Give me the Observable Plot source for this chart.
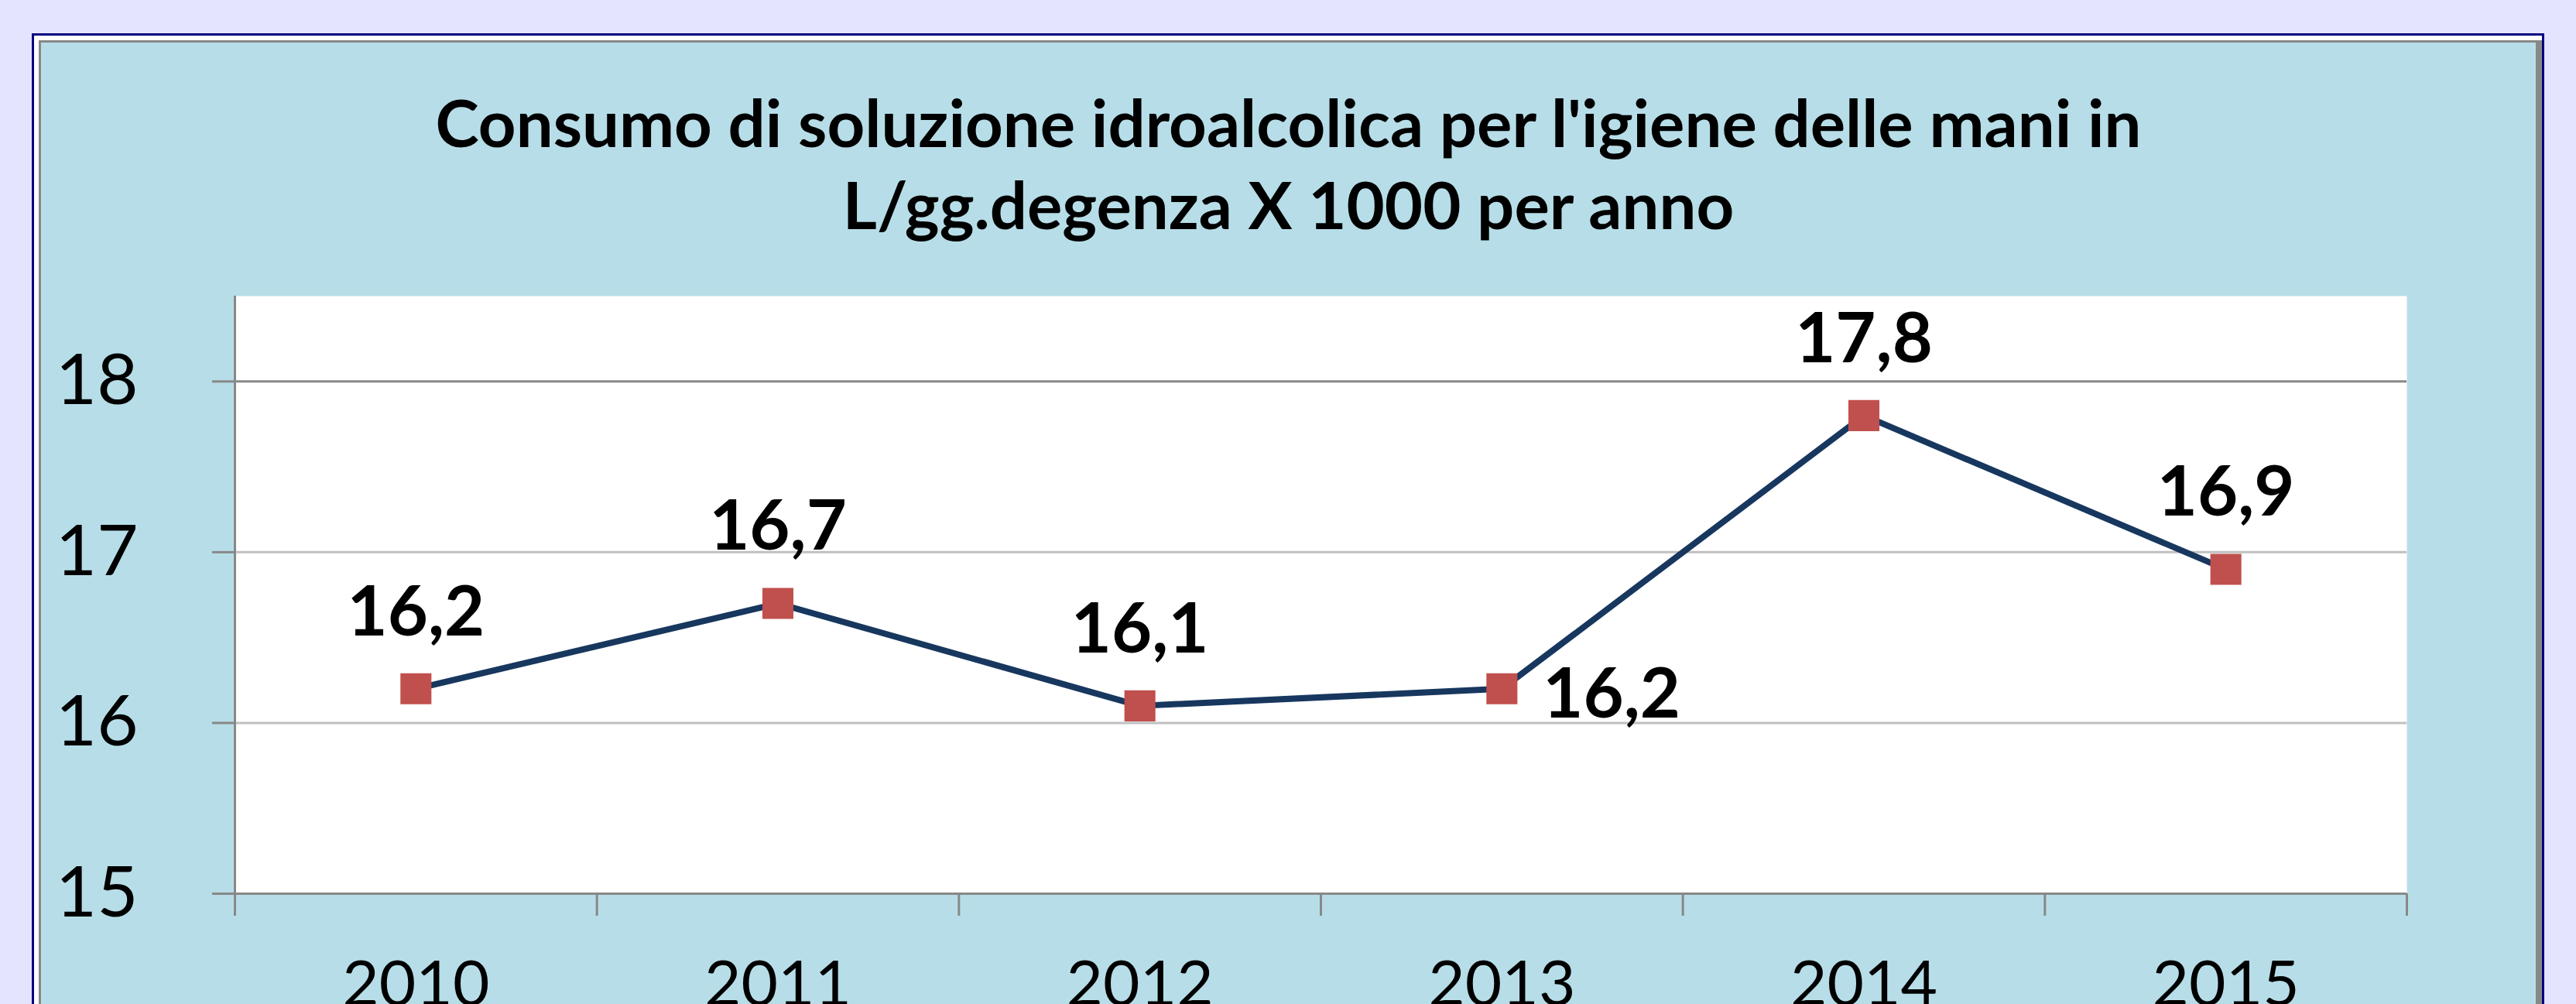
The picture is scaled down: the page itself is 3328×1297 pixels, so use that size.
<!DOCTYPE html>
<html>
<head>
<meta charset="utf-8">
<script src="https://cdn.jsdelivr.net/npm/d3@7"></script>
<script src="https://cdn.jsdelivr.net/npm/@observablehq/plot@0.6"></script>
<style>
  html, body { margin: 0; padding: 0; }
  body { width: 3328px; height: 1297px; overflow: hidden; background: #e4e4ff; position: relative; font-family: Lato, "Open Sans", sans-serif; }
  #outer { position: absolute; left: 41px; top: 43px; width: 3246px; height: 1400px; box-sizing: border-box;
           border: 3px solid #000080; background: #ffffff; }
  #panel { position: absolute; left: 50px; top: 52px; width: 3234px; height: 1400px; box-sizing: border-box;
           border-left: 3px solid #888888; border-top: 3px solid #888888; border-right: 8px solid #888888; background: #b7dee8; }
  #title { position: absolute; left: 53px; width: 3223px; top: 104px; text-align: center; font-family: Lato, sans-serif;
           font-weight: bold; font-size: 85px; line-height: 106px; color: #000; z-index: 3; }
  #chart { position: absolute; left: 0; top: 0; z-index: 2; }
</style>
</head>
<body>
<div id="outer"></div>
<div id="panel"></div>
<div id="title">Consumo di soluzione idroalcolica per l'igiene delle mani in<br>L/gg.degenza X 1000 per anno</div>
<div id="chart"></div>
<script>
const years = ["2010", "2011", "2012", "2013", "2014", "2015"];
const values = [16.2, 16.7, 16.1, 16.2, 17.8, 16.9];
const labelSide = ["above", "above", "above", "right", "above", "above"];
const yTicks = [15, 16, 17, 18];

const data = years.map((year, i) => ({year, i, value: values[i], side: labelSide[i]}));
const centers = years.map((_, i) => i + 0.5);
const bounds = d3.range(years.length + 1);
const fmt = v => v.toFixed(1).replace(".", ",");
const fx = d => d.i + 0.5;

const chart = Plot.plot({
  width: 3328,
  height: 1400,
  marginLeft: 303,
  marginRight: 219,
  marginTop: 382,
  marginBottom: 246,
  x: {type: "linear", domain: [0, years.length], axis: null},
  y: {domain: [15, 18.5], axis: null},
  style: {background: "transparent", color: "black", fontFamily: "Lato, sans-serif", overflow: "visible"},
  marks: [
    Plot.frame({fill: "white", stroke: "none"}),
    Plot.ruleY(yTicks.slice(1, -1), {stroke: "#c0c0c0", strokeWidth: 3}),
    Plot.ruleY(yTicks.slice(-1), {stroke: "#888888", strokeWidth: 3}),
    Plot.ruleY(yTicks.slice(0, 1), {stroke: "#888888", strokeWidth: 3}),
    Plot.ruleX(bounds.slice(0, 1), {stroke: "#888888", strokeWidth: 3}),
    Plot.axisY({ticks: yTicks, anchor: "left", label: null, tickSize: 29, tickPadding: 96, stroke: "#888888", strokeWidth: 3,
                fill: "black", fontSize: 92, tickFormat: d => String(d)}),
    Plot.axisX({ticks: bounds, anchor: "bottom", label: null, tickSize: 29, stroke: "#888888", strokeWidth: 3, tickFormat: () => ""}),
    Plot.axisX({ticks: centers, anchor: "bottom", label: null, tickSize: 0, tickPadding: 86, fill: "black", fontSize: 82,
                tickFormat: d => years[Math.floor(d)]}),
    Plot.line(data, {x: fx, y: "value", stroke: "#17375e", strokeWidth: 8}),
    Plot.dot(data, {x: fx, y: "value", symbol: "square", r: 22.6, fill: "#c0504d", stroke: "none"}),
    Plot.text(data.filter(d => d.side === "above"), {x: fx, y: "value", text: d => fmt(d.value), dy: -98,
              fontSize: 90, fontWeight: "bold", fill: "black"}),
    Plot.text(data.filter(d => d.side === "right"), {x: fx, y: "value", text: d => fmt(d.value), dx: 53, dy: 8,
              textAnchor: "start", fontSize: 90, fontWeight: "bold", fill: "black"})
  ]
});
document.getElementById("chart").appendChild(chart);
</script>
</body>
</html>
